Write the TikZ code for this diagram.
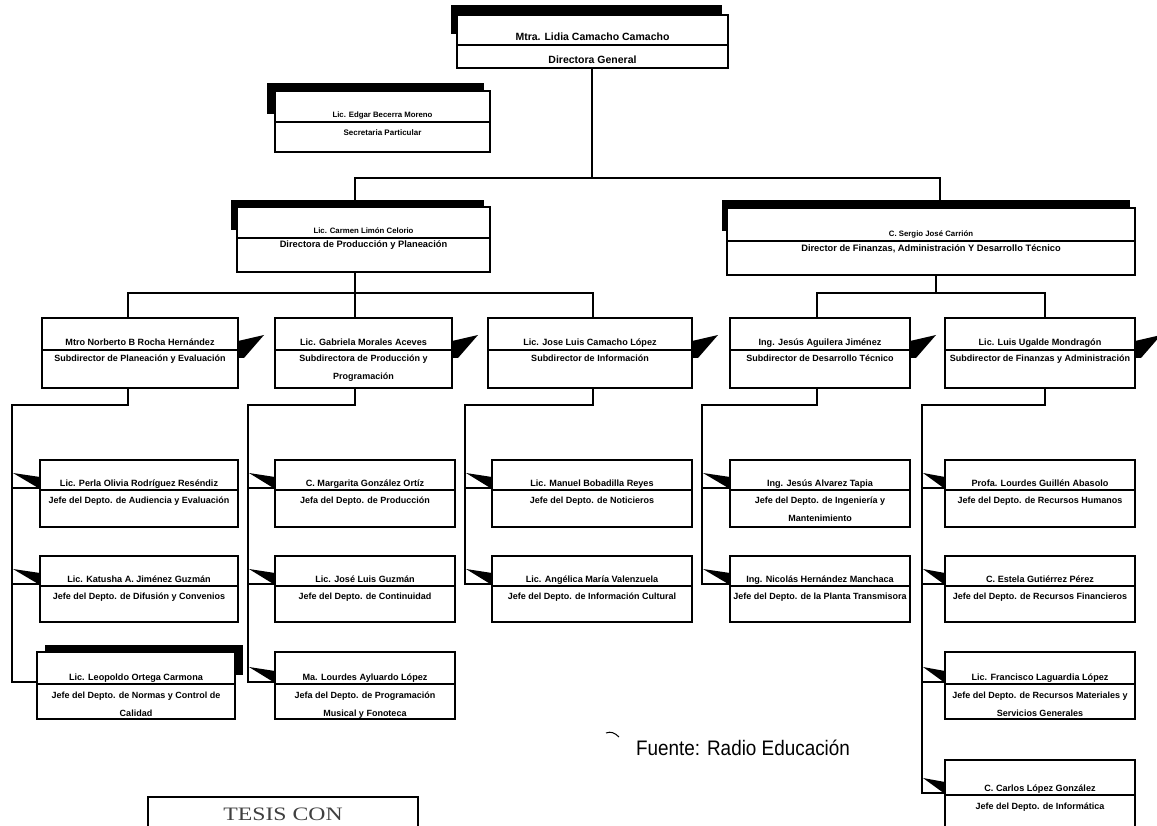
\documentclass[tikz,border=0pt]{standalone}
\usepackage{fontspec}
\usepackage{graphicx}
\setmainfont{Liberation Sans}
\newfontfamily\stampfont{Liberation Serif}
\usetikzlibrary{calc}
% box: name, x1, y1, x2, y2, divider y, role baseline offset, name text, role text
\newcommand\obox[9]{%
  \node[obx, minimum width={(#4-#2)*1pt}, minimum height={(#5-#3)*1pt}, anchor=north west] (#1) at (#2,#3) {};
  \draw[dvl] (#2,#6) -- (#4,#6);
  \node[nm, anchor=base] (#1-n) at ({(#2+#4)/2},{#6-4}) {#8};
  \node[rl, anchor=base] (#1-r) at ({(#2+#4)/2},{#6+#7}) {#9};
  \coordinate (#1-in) at (#2,{#6-2});
  \coordinate (#1-out) at (#4,{#6-4});
}
\newcommand\lflag[2]{\fill[flag] ($(#1-in -| #2)+(1,-15)$) -- ($(#1-in)+(0,-11)$) -- ($(#1-in)+(0,1)$) -- cycle;}
\newcommand\rflag[1]{\fill[flag] ($(#1-out)+(0,-5)$) -- ++(26,-6) -- ($(#1-out)+(6,12)$) -- ($(#1-out)+(0,12)$) -- cycle;}
\begin{document}
\begin{tikzpicture}[x=1pt,y=-1pt,
  obx/.style={draw, line width=1.3pt, fill=white, inner sep=0pt, outer sep=0pt},
  dvl/.style={line width=1.1pt},
  cn/.style={line width=1.2pt},
  nm/.style={font=\fontsize{9.1}{11}\selectfont\bfseries, inner sep=0pt},
  rl/.style={font=\fontsize{9}{11}\selectfont\bfseries, inner sep=0pt},
  sh/.style={fill=black},
  flag/.style={fill=black}]
\useasboundingbox (0,0) rectangle (1157,826);
\fill[white] (0,0) rectangle (1157,826);
\clip (0,0) rectangle (1157,826);

% shadows
\fill[sh] (451,5) rectangle (722,34);
\fill[sh] (267,83) rectangle (484,114);
\fill[sh] (231,200) rectangle (484,230);
\fill[sh] (722,200) rectangle (1130,231);
\fill[sh] (45,645) rectangle (243,675);

% top levels
\begin{scope}[nm/.style={font=\fontsize{10.5}{12}\selectfont\bfseries, inner sep=0pt},
              rl/.style={font=\fontsize{10.5}{12}\selectfont\bfseries, inner sep=0pt}]
\obox{dg}{457}{15}{728}{68}{45}{19}{Mtra. Lidia Camacho Camacho}{Directora General}
\end{scope}
\begin{scope}[nm/.style={font=\fontsize{7.8}{9}\selectfont\bfseries, inner sep=0pt},
              rl/.style={font=\fontsize{8}{9}\selectfont\bfseries, inner sep=0pt}]
\obox{sec}{275}{91}{490}{152}{122}{14}{Lic. Edgar Becerra Moreno}{Secretaria Particular}
\end{scope}
\begin{scope}[nm/.style={font=\fontsize{7.8}{9}\selectfont\bfseries, inner sep=0pt},
              rl/.style={font=\fontsize{9.3}{11}\selectfont\bfseries, inner sep=0pt}]
\obox{carm}{237}{207}{490}{272}{238}{10}{Lic. Carmen Limón Celorio}{Directora de Producción y Planeación}
\obox{serg}{727}{208}{1135}{275}{241}{11}{C. Sergio José Carrión}{Director de Finanzas, Administración Y Desarrollo Técnico}
\end{scope}

% subdirectors
\obox{norb}{42}{318}{238}{388}{350}{12}{Mtro Norberto B Rocha Hernández}{Subdirector de Planeación y Evaluación}
\obox{gab}{275}{318}{452}{388}{350}{12}{Lic. Gabriela Morales Aceves}{Subdirectora de Producción y}
\node[rl, anchor=base] (gab-r2) at (363.5,380) {Programación};
\obox{jl}{488}{318}{692}{388}{350}{12}{Lic. Jose Luis Camacho López}{Subdirector de Información}
\obox{jes}{730}{318}{910}{388}{350}{12}{Ing. Jesús Aguilera Jiménez}{Subdirector de Desarrollo Técnico}
\obox{luis}{945}{318}{1135}{388}{350}{12}{Lic. Luis Ugalde Mondragón}{Subdirector de Finanzas y Administración}
\rflag{norb}\rflag{gab}\rflag{jl}\rflag{jes}\rflag{luis}

% row 4
\obox{perla}{40}{460}{238}{527}{490}{13}{Lic. Perla Olivia Rodríguez Reséndiz}{Jefe del Depto. de Audiencia y Evaluación}
\obox{marg}{275}{460}{455}{527}{490}{13}{C. Margarita González Ortíz}{Jefa del Depto. de Producción}
\obox{manu}{492}{460}{692}{527}{490}{13}{Lic. Manuel Bobadilla Reyes}{Jefe del Depto. de Noticieros}
\obox{alv}{730}{460}{910}{527}{490}{13}{Ing. Jesús Alvarez Tapia}{Jefe del Depto. de Ingeniería y}
\node[rl, anchor=base] (alv-r2) at (820,521) {Mantenimiento};
\obox{lour}{945}{460}{1135}{527}{490}{13}{Profa. Lourdes Guillén Abasolo}{Jefe del Depto. de Recursos Humanos}

% row 5
\obox{kat}{40}{556}{238}{622}{586}{13}{Lic. Katusha A. Jiménez Guzmán}{Jefe del Depto. de Difusión y Convenios}
\obox{guz}{275}{556}{455}{622}{586}{13}{Lic. José Luis Guzmán}{Jefe del Depto. de Continuidad}
\obox{ang}{492}{556}{692}{622}{586}{13}{Lic. Angélica María Valenzuela}{Jefe del Depto. de Información Cultural}
\obox{nic}{730}{556}{910}{622}{586}{13}{Ing. Nicolás Hernández Manchaca}{Jefe del Depto. de la Planta Transmisora}
\obox{est}{945}{556}{1135}{622}{586}{13}{C. Estela Gutiérrez Pérez}{Jefe del Depto. de Recursos Financieros}

% row 6
\obox{leo}{37}{652}{235}{719}{684}{14}{Lic. Leopoldo Ortega Carmona}{Jefe del Depto. de Normas y Control de}
\node[rl, anchor=base] (leo-r2) at (136,716) {Calidad};
\obox{ayl}{275}{652}{455}{719}{684}{14}{Ma. Lourdes Ayluardo López}{Jefa del Depto. de Programación}
\node[rl, anchor=base] (ayl-r2) at (365,716) {Musical y Fonoteca};
\obox{fran}{945}{652}{1135}{719}{684}{14}{Lic. Francisco Laguardia López}{Jefe del Depto. de Recursos Materiales y}
\node[rl, anchor=base] (fran-r2) at (1040,716) {Servicios Generales};

% row 7
\obox{car}{945}{760}{1135}{850}{795}{14}{C. Carlos López González}{Jefe del Depto. de Informática}

% connectors: upper levels
\coordinate (dg-dn) at (592,68);
\coordinate (bus1) at (592,178);
\coordinate (carm-up) at (355,200);
\coordinate (serg-up) at (940,200);
\draw[cn] (dg-dn) -- (bus1) -| (carm-up);
\draw[cn] (bus1) -| (serg-up);

\coordinate (carm-dn) at (355,272);
\coordinate (bus2) at (355,293);
\coordinate (norb-up) at (128,318);
\coordinate (gab-up) at (355,318);
\coordinate (jl-up) at (593,318);
\draw[cn] (carm-dn) -- (bus2) -| (norb-up);
\draw[cn] (bus2) -- (gab-up);
\draw[cn] (bus2) -| (jl-up);

\coordinate (serg-dn) at (936,275);
\coordinate (bus3) at (936,293);
\coordinate (jes-up) at (817,318);
\coordinate (luis-up) at (1045,318);
\draw[cn] (serg-dn) -- (bus3) -| (jes-up);
\draw[cn] (bus3) -| (luis-up);

% column 1
\coordinate (norb-dn) at (128,388);
\coordinate (c1b) at (128,405);
\coordinate (c1v) at (12,405);
\draw[cn] (norb-dn) -- (c1b) -- (c1v) -- (leo-in -| c1v) -- (leo-in);
\draw[cn] (perla-in -| c1v) -- (perla-in);
\draw[cn] (kat-in -| c1v) -- (kat-in);
\lflag{perla}{c1v}\lflag{kat}{c1v}

% column 2
\coordinate (gab-dn) at (355,388);
\coordinate (c2b) at (355,405);
\coordinate (c2v) at (248,405);
\draw[cn] (gab-dn) -- (c2b) -- (c2v) -- (ayl-in -| c2v) -- (ayl-in);
\draw[cn] (marg-in -| c2v) -- (marg-in);
\draw[cn] (guz-in -| c2v) -- (guz-in);
\lflag{marg}{c2v}\lflag{guz}{c2v}\lflag{ayl}{c2v}

% column 3
\coordinate (jl-dn) at (593,388);
\coordinate (c3b) at (593,405);
\coordinate (c3v) at (465,405);
\draw[cn] (jl-dn) -- (c3b) -- (c3v) -- (ang-in -| c3v) -- (ang-in);
\draw[cn] (manu-in -| c3v) -- (manu-in);
\lflag{manu}{c3v}\lflag{ang}{c3v}

% column 4
\coordinate (jes-dn) at (817,388);
\coordinate (c4b) at (817,405);
\coordinate (c4v) at (702,405);
\draw[cn] (jes-dn) -- (c4b) -- (c4v) -- (nic-in -| c4v) -- (nic-in);
\draw[cn] (alv-in -| c4v) -- (alv-in);
\lflag{alv}{c4v}\lflag{nic}{c4v}

% column 5
\coordinate (luis-dn) at (1045,388);
\coordinate (c5b) at (1045,405);
\coordinate (c5v) at (922,405);
\draw[cn] (luis-dn) -- (c5b) -- (c5v) -- (car-in -| c5v) -- (car-in);
\draw[cn] (lour-in -| c5v) -- (lour-in);
\draw[cn] (est-in -| c5v) -- (est-in);
\draw[cn] (fran-in -| c5v) -- (fran-in);
\lflag{lour}{c5v}\lflag{est}{c5v}\lflag{fran}{c5v}\lflag{car}{c5v}

% source note, stamp, stray mark
\node[font=\fontsize{21}{24}\selectfont, anchor=base, inner sep=0pt] (src) at (743,755) {\scalebox{0.9}[1]{Fuente: Radio Educación}};
\node[draw, line width=1.2pt, minimum width=270pt, minimum height=50pt, anchor=north west, inner sep=0pt, outer sep=0pt] (stamp) at (148,797) {};
\node[font=\stampfont\fontsize{19}{22}\selectfont, text=black!75, anchor=base, inner sep=0pt] (stamptxt) at (283,820) {\scalebox{1.25}[1]{TESIS CON}};
\draw[line width=1pt] (606,733) .. controls (611,731) and (615,733) .. (619,737);
\end{tikzpicture}
\end{document}
